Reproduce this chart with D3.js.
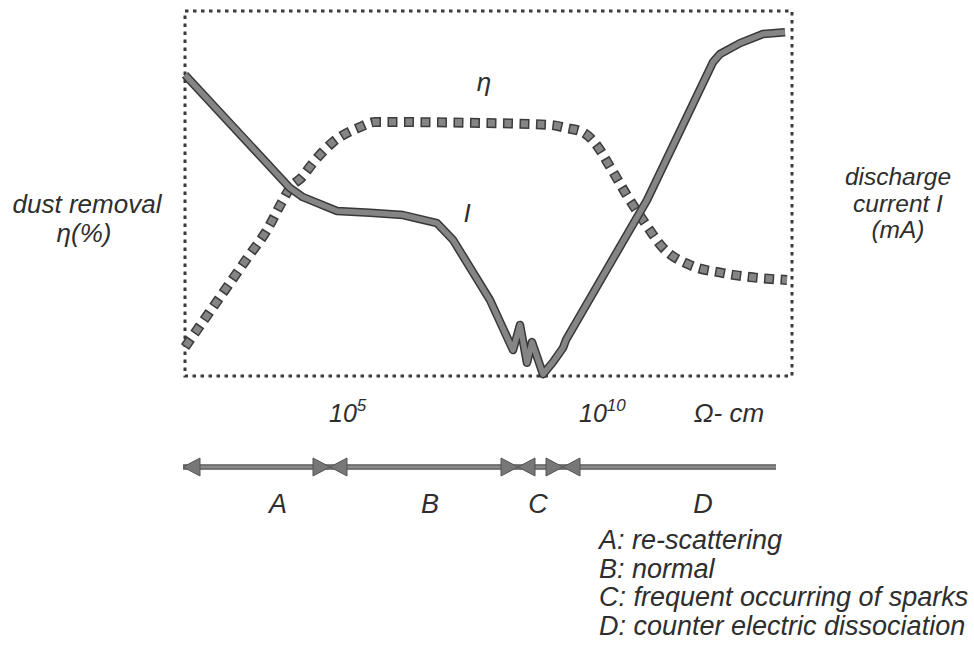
<!DOCTYPE html>
<meta charset="utf-8">
<script src="https://d3js.org/d3.v7.min.js"></script>
<style>
  body { margin: 0; background: #fff; }
  text { font-family: "Liberation Sans", Arial, sans-serif; font-style: italic; fill: #2e2e2e; }
</style>
<div id="chart"></div>
<script>
// x = log10 of dust resistivity (ohm-cm), y = height in % of the plot frame
var currentLogR = [1.9, 4.0, 4.26, 4.94, 5.6, 6.26, 6.94, 7.26, 8.0, 8.46, 8.6, 8.74, 8.84, 9.06, 9.26, 9.46, 9.52, 11.14, 12.46, 12.6, 13.0, 13.46, 13.9];
var currentValue = [82.5, 51.5, 49.0, 45.2, 44.7, 44.1, 41.9, 37.3, 20.8, 7.1, 14.0, 3.6, 9.3, 0.5, 3.8, 7.7, 9.9, 48.2, 86.0, 88.2, 91.2, 93.7, 94.2];

var etaLogR = [1.9, 2.6, 3.16, 3.54, 3.84, 4.0, 4.24, 4.46, 4.86, 5.4, 5.7, 7.94, 9.2, 9.54, 9.86, 10.1, 10.44, 10.76, 11.1, 11.46, 12.0, 12.66, 13.94];
var etaValue = [7.9, 21.6, 32.6, 40.0, 47.7, 51.5, 54.5, 58.4, 64.1, 68.2, 69.6, 69.3, 68.8, 67.9, 66.8, 63.8, 56.4, 49.0, 41.9, 35.1, 30.4, 28.2, 26.3];

var tickPowers = [5, 10];

var zoneNames = ["A", "B", "C", "D"];
var zoneBounds = [1.86, 4.8, 8.56, 9.46, 13.72];
var zoneLabelAt = [3.76, 6.8, 8.96, 12.26];

var legendLines = ["A: re-scattering", "B: normal", "C: frequent occurring of sparks", "D: counter electric dissociation"];

var width = 974, height = 648;
var margin = {top: 11, right: 182, bottom: 272, left: 185};

var svg = d3.select("#chart").append("svg")
    .attr("width", width)
    .attr("height", height);

var x = d3.scaleLinear()
    .domain([1.9, 14.04])
    .range([margin.left, width - margin.right]);
var y = d3.scaleLinear()
    .domain([0, 100])
    .range([height - margin.bottom, margin.top]);

// dotted frame
svg.append("rect")
    .attr("x", x.range()[0])
    .attr("y", y.range()[1])
    .attr("width", x.range()[1] - x.range()[0])
    .attr("height", y.range()[0] - y.range()[1])
    .attr("fill", "none")
    .attr("stroke", "#3a3a3a")
    .attr("stroke-width", 3)
    .attr("stroke-dasharray", "3.5 4.5");

// efficiency curve eta: big square dots
var etaLine = d3.line()
    .x(function(d, i) { return x(etaLogR[i]); })
    .y(function(d) { return y(d); })
    .curve(d3.curveMonotoneX);

svg.append("path")
    .datum(etaValue)
    .attr("d", etaLine)
    .attr("fill", "none")
    .attr("stroke", "#3c3c3c")
    .attr("stroke-width", 10)
    .attr("stroke-dasharray", "10 6.5");
svg.append("path")
    .datum(etaValue)
    .attr("d", etaLine)
    .attr("fill", "none")
    .attr("stroke", "#858585")
    .attr("stroke-width", 7)
    .attr("stroke-dasharray", "7 9.5")
    .attr("stroke-dashoffset", -1.5);

// discharge current I
var currentLine = d3.line()
    .x(function(d, i) { return x(currentLogR[i]); })
    .y(function(d) { return y(d); });

svg.append("path")
    .datum(currentValue)
    .attr("d", currentLine)
    .attr("fill", "none")
    .attr("stroke", "#383838")
    .attr("stroke-width", 8.5)
    .attr("stroke-linejoin", "round");
svg.append("path")
    .datum(currentValue)
    .attr("d", currentLine)
    .attr("fill", "none")
    .attr("stroke", "#858585")
    .attr("stroke-width", 5.5)
    .attr("stroke-linejoin", "round");

// curve labels
svg.append("text").attr("x", x(7.88)).attr("y", 91)
    .attr("text-anchor", "middle").style("font-size", "26px").text("η");
svg.append("text").attr("x", x(7.54)).attr("y", 222)
    .attr("text-anchor", "middle").style("font-size", "26px").text("I");

// axis titles
svg.append("text").attr("x", 87).attr("y", 213)
    .attr("text-anchor", "middle").style("font-size", "26px").text("dust removal");
svg.append("text").attr("x", 84).attr("y", 242)
    .attr("text-anchor", "middle").style("font-size", "26px").text("η(%)");

var right = svg.append("text").attr("text-anchor", "middle").style("font-size", "24.5px");
["discharge", "current I", "(mA)"].forEach(function(s, i) {
  right.append("tspan").attr("x", 898).attr("y", 185 + i * 26.5).text(s);
});

// resistivity tick labels
tickPowers.forEach(function(p) {
  var t = svg.append("text")
      .attr("x", x(p) - 11)
      .attr("y", 422)
      .style("font-size", "25px");
  t.append("tspan").text("10");
  t.append("tspan").attr("dy", -11).style("font-size", "17px").text(p);
});
svg.append("text").attr("x", x(12.78)).attr("y", 422)
    .attr("text-anchor", "middle").style("font-size", "26px").text("Ω- cm");

// zones with arrows
var arrowY = 467;
var arrowColor = "#777";
function head(xTip, dir) {
  // dir = -1 points left, +1 points right
  var len = 17, half = 9;
  svg.append("path")
      .attr("d", "M" + xTip + "," + arrowY +
                 "L" + (xTip - dir * len) + "," + (arrowY - half) +
                 "L" + (xTip - dir * len) + "," + (arrowY + half) + "Z")
      .attr("fill", arrowColor)
      .attr("stroke", "#555")
      .attr("stroke-width", 1);
}
zoneNames.forEach(function(z, i) {
  var x0 = x(zoneBounds[i]), x1 = x(zoneBounds[i + 1]);
  svg.append("line")
      .attr("x1", x0).attr("x2", x1)
      .attr("y1", arrowY).attr("y2", arrowY)
      .attr("stroke", "#555").attr("stroke-width", 5.5);
  svg.append("line")
      .attr("x1", x0).attr("x2", x1)
      .attr("y1", arrowY).attr("y2", arrowY)
      .attr("stroke", "#8a8a8a").attr("stroke-width", 3);
  head(x0, -1);
  if (i < zoneNames.length - 1) head(x1, 1);
  svg.append("text")
      .attr("x", x(zoneLabelAt[i]))
      .attr("y", 513)
      .attr("text-anchor", "middle")
      .style("font-size", "27px")
      .text(z);
});

// legend
svg.append("g").selectAll("text")
  .data(legendLines)
  .enter().append("text")
    .attr("x", 599)
    .attr("y", function(d, i) { return 549 + i * 28.5; })
    .style("font-size", "27px")
    .text(function(d) { return d; });
</script>
